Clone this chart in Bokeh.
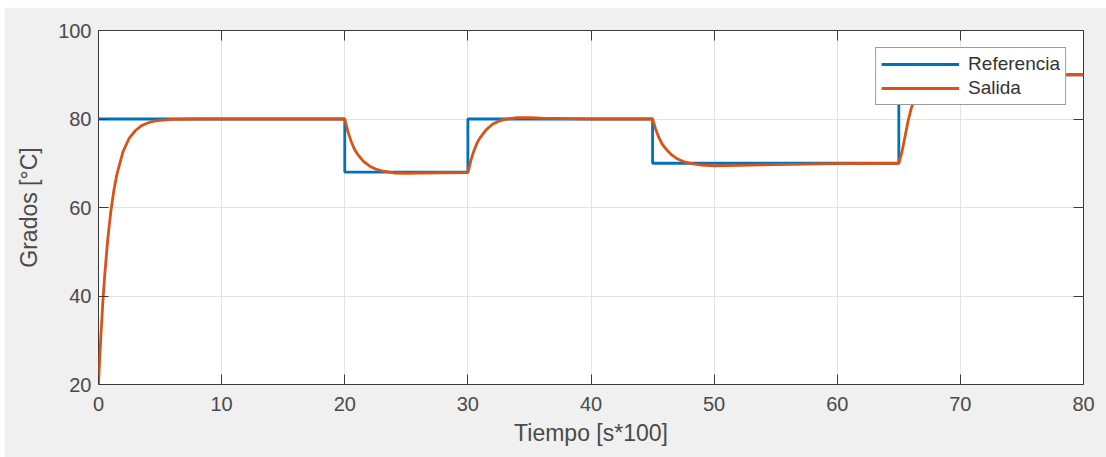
from bokeh.plotting import figure
from bokeh.models import Range1d, FixedTicker, LinearAxis, Legend, LegendItem
from bokeh.embed import file_html
from bokeh.resources import INLINE

# Reference (set point) step signal
ref_t = [0, 20, 20, 30, 30, 45, 45, 65, 65, 80]
ref_v = [80, 80, 68, 68, 80, 80, 70, 70, 90, 90]

# System output
out_t = [0, 0.1, 0.2, 0.35, 0.5, 0.75, 1, 1.25, 1.5, 2, 2.5, 3, 3.5, 4, 4.5, 5, 6, 8, 12, 20,
         20.25, 20.5, 20.75, 21, 21.5, 22, 22.5, 23, 24, 25, 26, 28, 30,
         30.25, 30.5, 30.75, 31, 31.5, 32, 32.5, 33, 34, 35, 36, 38, 40, 45,
         45.25, 45.5, 45.75, 46, 46.5, 47, 47.5, 48, 49, 50, 52, 55, 60, 65,
         65.25, 65.5, 65.75, 66, 66.25, 66.5, 67, 67.5, 68, 69, 70, 72, 75, 80]
out_v = [20, 26.0, 31.4, 38.5, 44.5, 52.8, 59.1, 63.9, 67.6, 72.7, 75.7, 77.4, 78.5, 79.1, 79.5, 79.7, 79.9, 80.0, 80.0, 80.0,
         77.2, 75.1, 73.4, 72.2, 70.5, 69.4, 68.7, 68.3, 67.8, 67.7, 67.75, 67.85, 67.9,
         70.7, 72.9, 74.6, 75.8, 77.6, 78.8, 79.5, 79.9, 80.3, 80.3, 80.2, 80.1, 80.0, 80.0,
         77.7, 75.9, 74.5, 73.5, 72.0, 71.0, 70.4, 70.0, 69.6, 69.4, 69.5, 69.7, 69.9, 70.0,
         72.5, 76.0, 79.5, 82.3, 84.3, 85.9, 88.0, 89.1, 89.7, 90.1, 90.2, 90.1, 90.0, 90.0]

x_ticks = [0, 10, 20, 30, 40, 50, 60, 70, 80]
y_ticks = [20, 40, 60, 80, 100]

x_label = "Tiempo [s*100]"
y_label = "Grados [°C]"
series_names = ["Referencia", "Salida"]

FONT = "Liberation Sans"
TXT = "#4a4a4a"

p = figure(frame_width=985, frame_height=354,
           min_border_left=94, min_border_right=23, min_border_top=23, min_border_bottom=73,
           x_range=Range1d(0, 80), y_range=Range1d(20, 100),
           output_backend="svg", toolbar_location=None,
           background_fill_color="white", border_fill_color="#f0f0f0")
p.margin = (7, 0, 0, 4)
p.outline_line_color = "#3a3a3a"
p.outline_line_width = 1

for ax, ticks in ((p.xaxis[0], x_ticks), (p.yaxis[0], y_ticks)):
    ax.ticker = FixedTicker(ticks=ticks)
    ax.axis_line_color = None
    ax.major_tick_in = 10
    ax.major_tick_out = 0
    ax.major_tick_line_color = "#3a3a3a"
    ax.minor_tick_line_color = None
    ax.major_label_text_font = FONT
    ax.major_label_text_font_size = "20px"
    ax.major_label_text_color = TXT
    ax.axis_label_text_font = FONT
    ax.axis_label_text_font_size = "23px"
    ax.axis_label_text_font_style = "normal"
    ax.axis_label_text_color = TXT

p.xaxis[0].axis_label = x_label
p.yaxis[0].axis_label = y_label
p.xaxis[0].major_label_standoff = 12
p.xaxis[0].axis_label_standoff = 6
p.yaxis[0].major_label_standoff = 7
p.yaxis[0].axis_label_standoff = 13

for loc, ticks in (("above", x_ticks), ("right", y_ticks)):
    ax = LinearAxis(ticker=FixedTicker(ticks=ticks), axis_line_color=None,
                    major_tick_in=10, major_tick_out=0, major_tick_line_color="#3a3a3a",
                    minor_tick_line_color=None, major_label_text_color=None,
                    major_label_text_font_size="6px")
    p.add_layout(ax, loc)

p.xgrid.ticker = FixedTicker(ticks=x_ticks)
p.ygrid.ticker = FixedTicker(ticks=y_ticks)
p.grid.grid_line_color = "#e3e3e3"
p.grid.grid_line_width = 1

r1 = p.line(ref_t, ref_v, line_color="#0072BD", line_width=2.8)
r2 = p.line(out_t, out_v, line_color="#D95319", line_width=2.8)

legend = Legend(items=[LegendItem(label=series_names[0], renderers=[r1]),
                       LegendItem(label=series_names[1], renderers=[r2])],
                location="top_right", margin=17, padding=5,
                glyph_width=78, glyph_height=18, label_standoff=9, spacing=2,
                label_text_font=FONT, label_text_font_size="19px", label_text_color="#333333",
                border_line_color="#3a3a3a", border_line_width=1,
                background_fill_color="white", background_fill_alpha=1)
p.add_layout(legend)

open("out.html", "w").write(file_html(p, INLINE))
